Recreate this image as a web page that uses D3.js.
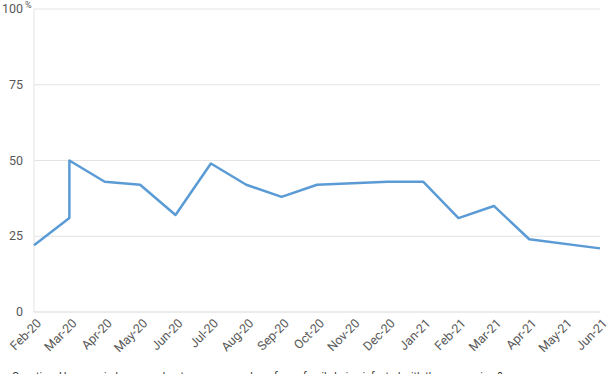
<!DOCTYPE html>
<html>
<head>
<meta charset="utf-8">
<script src="https://cdn.jsdelivr.net/npm/d3@7"></script>
<style>
  body { margin: 0; background: #fff; }
  svg { font-family: Roboto, "Liberation Sans", Arial, sans-serif; }
</style>
</head>
<body>
<div class="graph"></div>
<script>
// data
var months = ['Feb-20', 'Mar-20', 'Apr-20', 'May-20', 'Jun-20', 'Jul-20', 'Aug-20', 'Sep-20',
              'Oct-20', 'Nov-20', 'Dec-20', 'Jan-21', 'Feb-21', 'Mar-21', 'Apr-21', 'May-21', 'Jun-21'];
// survey waves (Mar-20 has two waves, Nov-20 and May-21 none)
var waveMonths = ['Feb-20', 'Mar-20', 'Mar-20', 'Apr-20', 'May-20', 'Jun-20', 'Jul-20', 'Aug-20',
                  'Sep-20', 'Oct-20', 'Dec-20', 'Jan-21', 'Feb-21', 'Mar-21', 'Apr-21', 'Jun-21'];
var waveValues = [22, 31, 50, 43, 42, 32, 49, 42, 38, 42, 43, 43, 31, 35, 24, 21];
var yTicks = [0, 25, 50, 75, 100];
var question = 'Question: How worried are you about you or a member of your family being infected with the coronavirus?';

var basewidth = 612, baseheight = 374;
var margin = {top: 9, right: 12, bottom: 62, left: 34},
    width = basewidth - margin.left - margin.right,
    height = baseheight - margin.top - margin.bottom;

var svg = d3.select('.graph')
    .append('svg')
    .attr('width', basewidth)
    .attr('height', baseheight);
var canvas = svg.append('g')
    .attr('transform', 'translate(' + margin.left + ',' + margin.top + ')');

var x = d3.scalePoint().domain(months).range([0, width]);
var y = d3.scaleLinear().domain([0, 100]).range([height, 0]);

// gridlines
canvas.selectAll('.grid')
    .data(yTicks.filter(function(d) { return d > 0; }))
    .enter().append('line')
    .attr('x1', 0).attr('x2', width)
    .attr('y1', function(d) { return y(d); })
    .attr('y2', function(d) { return y(d); })
    .style('stroke', '#e3e3e3')
    .style('stroke-width', 1);

// axis lines
canvas.append('line')
    .attr('x1', 0).attr('x2', 0).attr('y1', 0).attr('y2', height)
    .style('stroke', '#e3e3e3');
canvas.append('line')
    .attr('x1', 0).attr('x2', width).attr('y1', height).attr('y2', height)
    .style('stroke', '#d9d9d9');

// y labels
canvas.selectAll('.ylab')
    .data(yTicks)
    .enter().append('text')
    .attr('x', -11)
    .attr('y', function(d) { return y(d) + 4; })
    .attr('text-anchor', 'end')
    .style('font-size', '12.5px')
    .style('fill', '#595959')
    .text(function(d) { return d; });
canvas.append('text')
    .attr('x', -9)
    .attr('y', y(100) - 1)
    .style('font-size', '9px')
    .style('fill', '#595959')
    .text('%');

// x labels
canvas.selectAll('.xlab')
    .data(months)
    .enter().append('text')
    .attr('transform', function(d) {
        return 'translate(' + (x(d) + 5) + ',' + (height + 9) + ') rotate(-45)';
    })
    .attr('text-anchor', 'end')
    .attr('dy', '0.35em')
    .style('font-size', '12.5px')
    .style('fill', '#595959')
    .text(function(d) { return d; });

// line
var line = d3.line()
    .x(function(d, i) { return x(waveMonths[i]); })
    .y(function(d) { return y(d); });
canvas.append('path')
    .datum(waveValues)
    .attr('d', line)
    .style('fill', 'none')
    .style('stroke', '#5b9bd5')
    .style('stroke-width', 2.5)
    .attr('stroke-linejoin', 'round');

// question (cut off at bottom, as in the source)
svg.append('text')
    .attr('x', 12)
    .attr('y', 380)
    .style('font-size', '10.5px')
    .style('fill', '#333')
    .text(question);
</script>
</body>
</html>
